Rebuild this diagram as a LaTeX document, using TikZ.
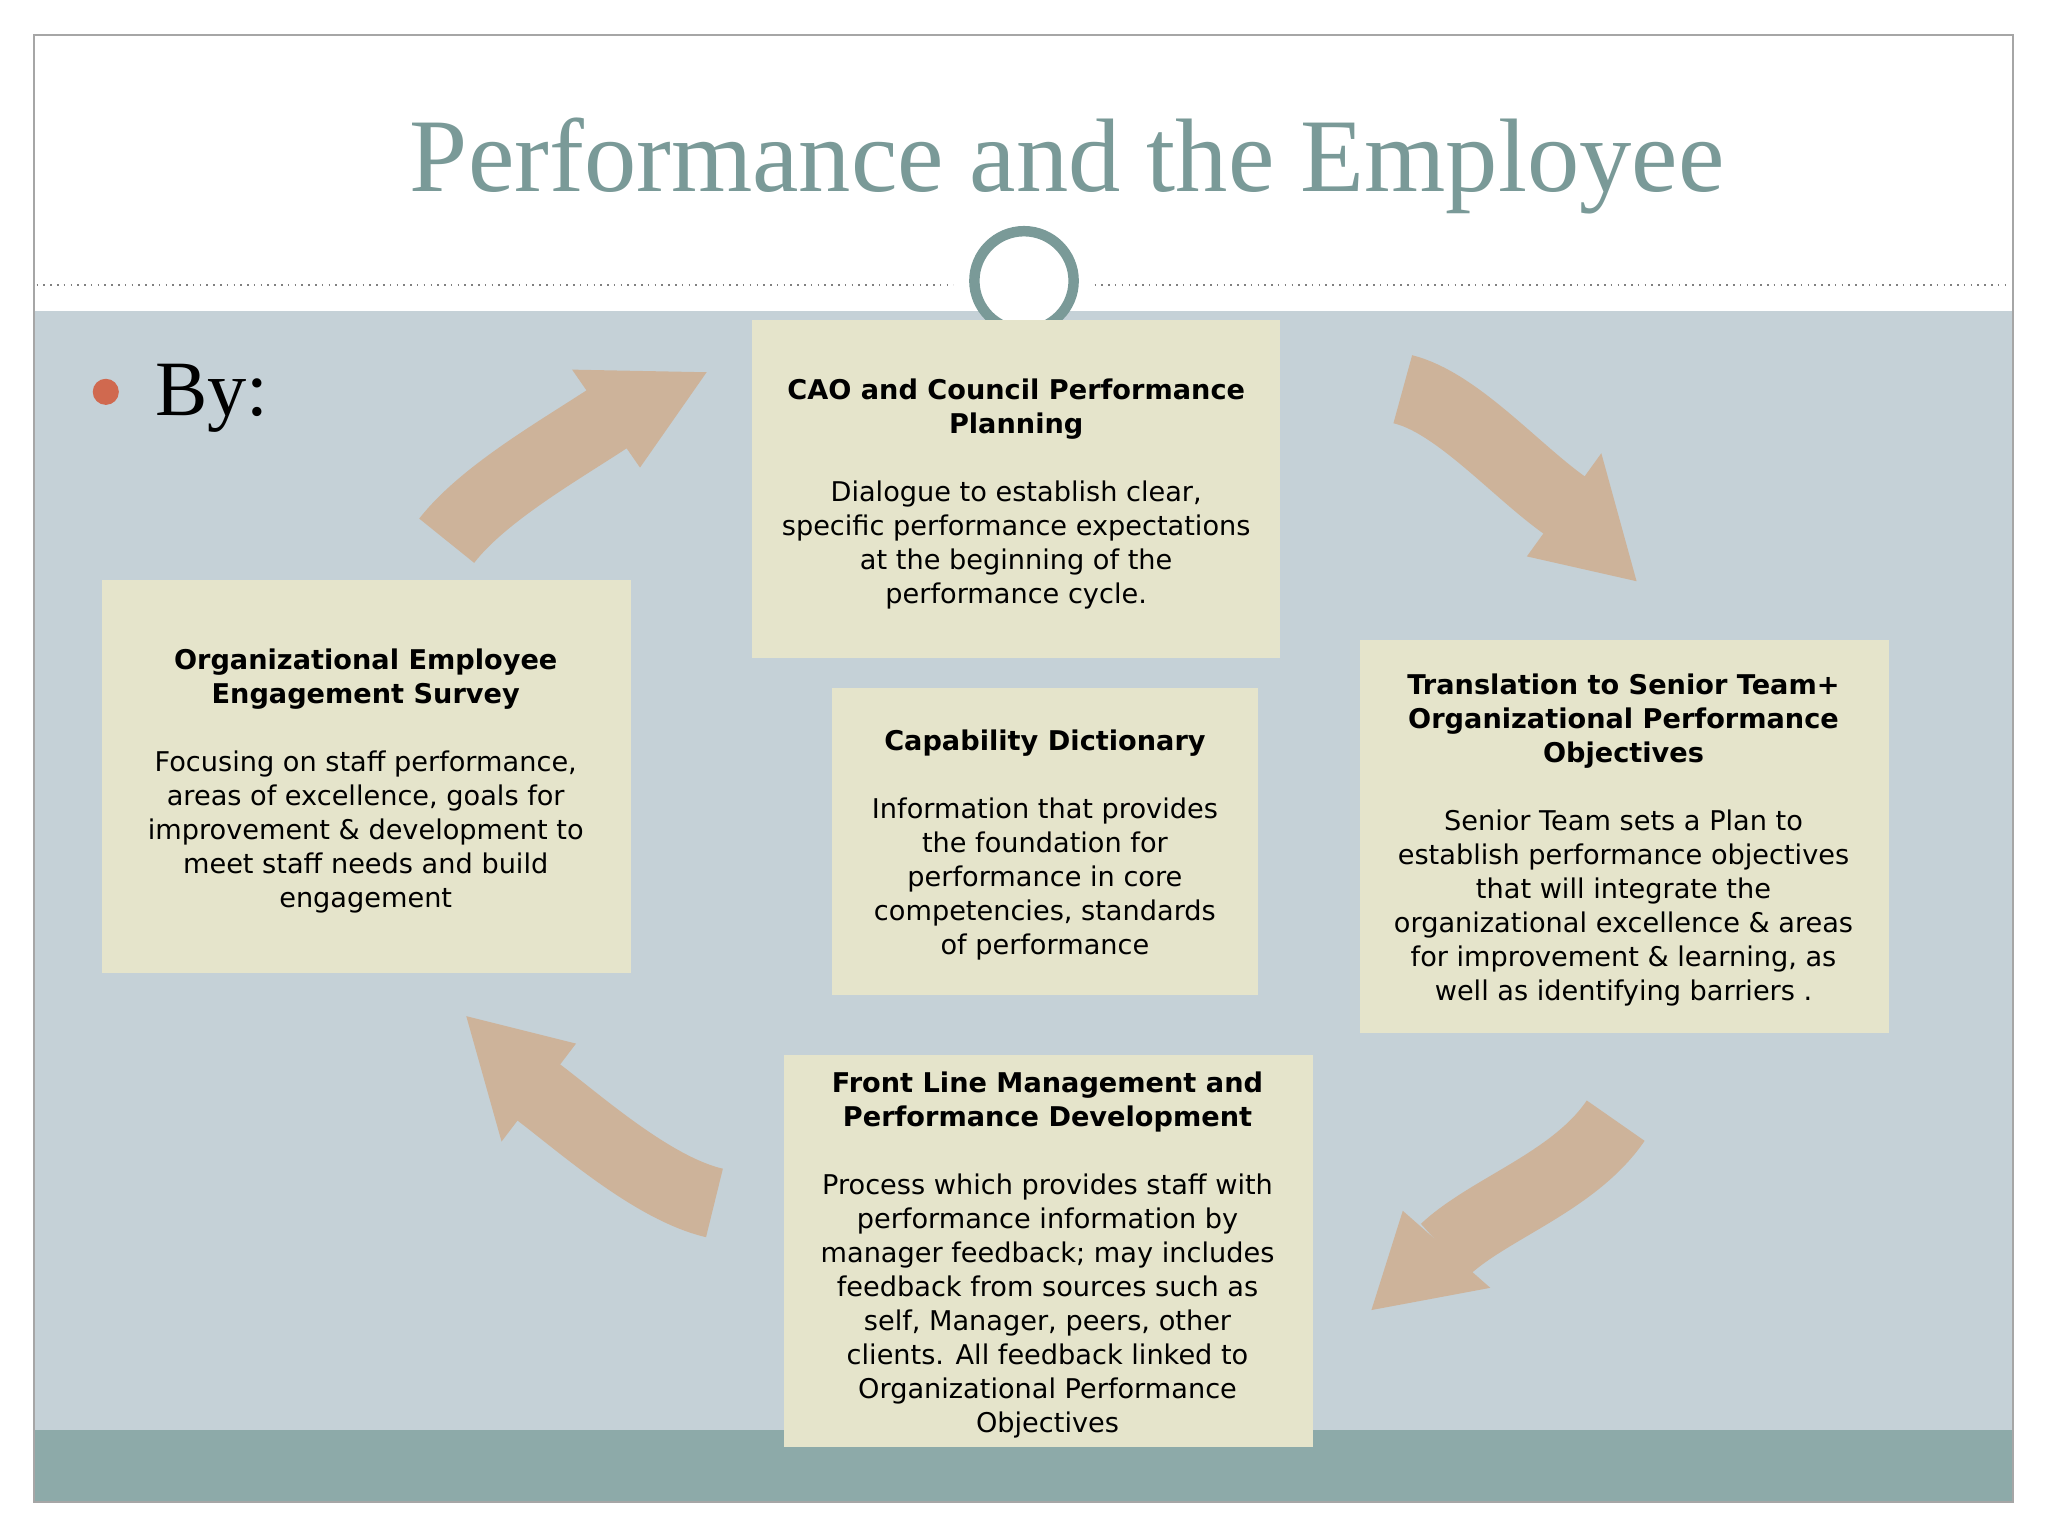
\documentclass[tikz,border=0pt]{standalone}
\usepackage{fontspec}
\setsansfont{DejaVu Sans}
\setmainfont{Liberation Serif}
\definecolor{bgblue}{HTML}{C5D1D7}
\definecolor{band}{HTML}{8DAAA9}
\definecolor{boxc}{HTML}{E5E4CB}
\definecolor{titc}{HTML}{7A9A98}
\definecolor{arr}{HTML}{CDB39A}
\definecolor{bul}{HTML}{D0694F}
\tikzset{
 card/.style={fill=boxc,minimum width=#1,align=center,font=\sffamily\fontsize{10.4}{13}\selectfont,inner sep=0pt},
 arrbody/.style={draw=arr,line width=27pt},
 arrhead/.style={fill=arr}
}
\begin{document}
\begin{tikzpicture}[x=0.5pt,y=-0.5pt]
\useasboundingbox (0,0) rectangle (1568,1176);
\fill[white] (0,0) rectangle (1568,1176);
\fill[bgblue] (26,238) rectangle (1541,1095);
\fill[band] (26,1095) rectangle (1541,1150);
\draw[gray!70,line width=0.6pt] (26,27) rectangle (1541,1150);
\draw[gray,dotted,line width=0.6pt] (28,218) -- (730,218);
\draw[gray,dotted,line width=0.6pt] (838,218) -- (1538,218);
\node[font=\fontsize{40}{44}\selectfont,text=titc] (title) at (817,127) {Performance and the Employee};
\draw[titc,line width=4pt,fill=white] (784,215) circle (19pt);
\fill[bul] (81,300) circle (5pt);
\node[anchor=west,font=\fontsize{30}{34}\selectfont] (by) at (112,305) {By:};
% arrows
\draw[arrbody] (342,414) .. controls (370,378) and (428,345) .. (466,320);
\fill[arrhead] (438,283) -- (541,285) -- (490,358) -- cycle;
\draw[arrbody] (1074,298) .. controls (1115,308) and (1160,360) .. (1198,387);
\fill[arrhead] (1226,347) -- (1253,445) -- (1169,426) -- cycle;
\draw[arrbody] (1237,858) .. controls (1205,905) and (1140,925) .. (1106,957);
\fill[arrhead] (1074,927) -- (1050,1003) -- (1141,986) -- cycle;
\draw[arrbody] (547,921) .. controls (500,910) and (445,861) .. (412,836);
\fill[arrhead] (441,799) -- (357,778) -- (384,874) -- cycle;
% boxes
\fill[boxc] (576,245) rectangle (980,504);
\node[card=202pt] (top) at (778,378) {\textbf{CAO and Council Performance}\\\textbf{Planning}\\[13pt]Dialogue to establish clear,\\specific performance expectations\\at the beginning of the\\performance cycle.};
\fill[boxc] (637,527) rectangle (963,762);
\node[card=163pt] (mid) at (800,647) {\textbf{Capability Dictionary}\\[13pt]Information that provides\\the foundation for\\performance in core\\competencies, standards\\of performance};
\fill[boxc] (78,444) rectangle (483,745);
\node[card=202pt] (left) at (280,598) {\textbf{Organizational Employee}\\\textbf{Engagement Survey}\\[13pt]Focusing on staff performance,\\areas of excellence, goals for\\improvement \& development to\\meet staff needs and build\\engagement};
\fill[boxc] (1041,490) rectangle (1446,791);
\node[card=202pt] (right) at (1243,643) {\textbf{Translation to Senior Team+}\\\textbf{Organizational Performance}\\\textbf{Objectives}\\[13pt]Senior Team sets a Plan to\\establish performance objectives\\that will integrate the\\organizational excellence \& areas\\for improvement \& learning, as\\well as identifying barriers .};
\fill[boxc] (600,808) rectangle (1005,1108);
\node[card=202pt] (bot) at (802,961) {\textbf{Front Line Management and}\\\textbf{Performance Development}\\[13pt]Process which provides staff with\\performance information by\\manager feedback; may includes\\feedback from sources such as\\self, Manager, peers, other\\clients. All feedback linked to\\Organizational Performance\\Objectives};
\end{tikzpicture}
\end{document}
